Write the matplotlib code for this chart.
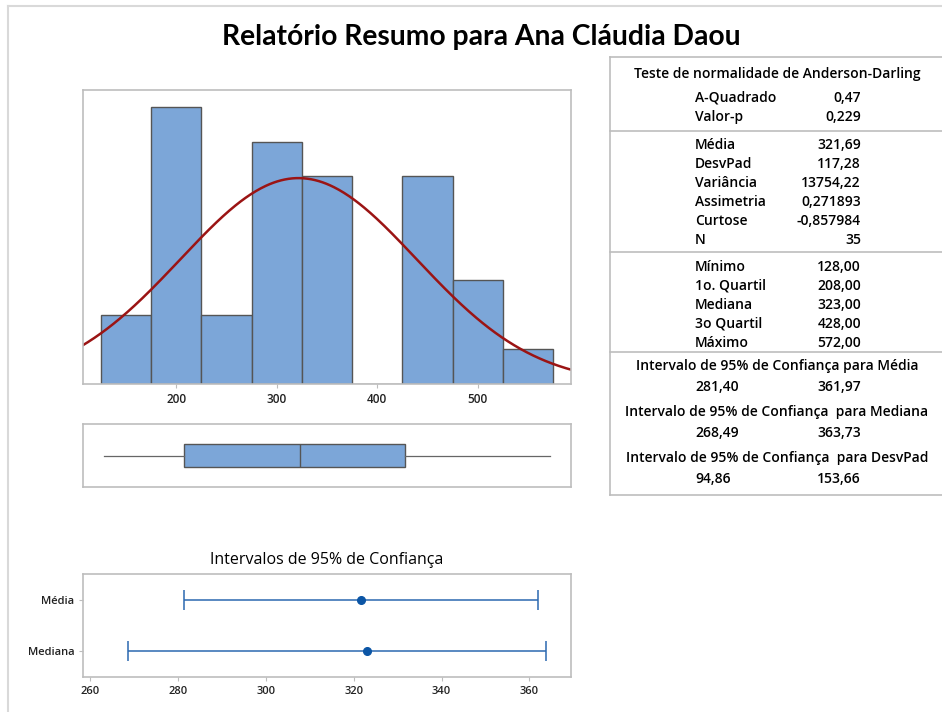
import numpy as np
import matplotlib
matplotlib.use("Agg")
import matplotlib.pyplot as plt
from matplotlib.lines import Line2D

plt.rcParams["font.family"] = ["Open Sans", "DejaVu Sans"]

# histogram data (bin width 50)
bin_edges = [125, 175, 225, 275, 325, 375, 425, 475, 525, 575]
bin_counts = [2, 8, 2, 7, 6, 0, 6, 3, 1]

# summary statistics
n_obs = 35
mean_val = 321.69
std_val = 117.28
box_min = 128.0
box_q1 = 208.0
box_med = 323.0
box_q3 = 428.0
box_max = 572.0

# confidence intervals
ci_labels = ["Mediana", "Média"]
ci_centers = [323.0, 321.69]
ci_low = [268.49, 281.40]
ci_high = [363.73, 361.97]

# table rows
ad_rows = [("A-Quadrado", "0,47"), ("Valor-p", "0,229")]
desc_rows = [("Média", "321,69"), ("DesvPad", "117,28"), ("Variância", "13754,22"),
             ("Assimetria", "0,271893"), ("Curtose", "-0,857984"), ("N", "35")]
quart_rows = [("Mínimo", "128,00"), ("1o. Quartil", "208,00"), ("Mediana", "323,00"),
              ("3o Quartil", "428,00"), ("Máximo", "572,00")]
ci_rows = [("Intervalo de 95% de Confiança para Média", "281,40", "361,97"),
           ("Intervalo de 95% de Confiança  para Mediana", "268,49", "363,73"),
           ("Intervalo de 95% de Confiança  para DesvPad", "94,86", "153,66")]

BAR = "#7ca6d8"
EDGE = "#555555"
FRAME = "#bdbdbd"

W, H = 942, 712
fig = plt.figure(figsize=(W / 100, H / 100), dpi=100)


def fx(px):
    return px / W


def fy(py):
    return 1 - py / H


# outer frame (left and top only visible)
fig.add_artist(Line2D([fx(8), fx(8)], [fy(6), 0], color="#d9d9d9", lw=1.5))
fig.add_artist(Line2D([fx(8), 1], [fy(6), fy(6)], color="#d9d9d9", lw=1.5))

fig.text(fx(481), fy(37), "Relatório Resumo para Ana Cláudia Daou",
         ha="center", va="center", fontsize=20.3, fontweight="bold",
         family=["Lato", "DejaVu Sans"])


def style_frame(ax):
    for s in ax.spines.values():
        s.set_color(FRAME)
        s.set_linewidth(1.2)


# histogram
ax_h = fig.add_axes([fx(83), fy(384), fx(571 - 83), (384 - 90) / H])
widths = np.diff(bin_edges)
ax_h.bar(bin_edges[:-1], bin_counts, width=widths, align="edge",
         color=BAR, edgecolor=EDGE, linewidth=1)
xs = np.linspace(100, 600, 400)
pdf = np.exp(-0.5 * ((xs - mean_val) / std_val) ** 2) / (std_val * np.sqrt(2 * np.pi))
ax_h.plot(xs, pdf * n_obs * 50, color="#9b1414", lw=1.8)
ax_h.set_xlim(107.5, 592.5)
ax_h.set_ylim(0, 8.5)
ax_h.set_yticks([])
ax_h.set_xticks([200, 300, 400, 500])
ax_h.tick_params(axis="x", labelsize=8.5, length=3, color=FRAME, labelcolor="#222222")
for t in ax_h.get_xticklabels():
    t.set_fontweight("semibold")
style_frame(ax_h)

# boxplot
ax_b = fig.add_axes([fx(83), fy(487), fx(571 - 83), (487 - 424) / H])
stats = [{"whislo": box_min, "q1": box_q1, "med": box_med, "q3": box_q3,
          "whishi": box_max, "fliers": []}]
ax_b.bxp(stats, vert=False, widths=0.35, showcaps=False, patch_artist=True,
         boxprops=dict(facecolor=BAR, edgecolor=EDGE, linewidth=1),
         medianprops=dict(color=EDGE, linewidth=1),
         whiskerprops=dict(color="#666666", linewidth=0.9))
ax_b.set_xlim(107.5, 592.5)
ax_b.set_ylim(0.5, 1.5)
ax_b.set_xticks([])
ax_b.set_yticks([])
style_frame(ax_b)

# confidence intervals
ax_c = fig.add_axes([fx(83.3), fy(677), fx(570.7 - 83.3), (677 - 574) / H])
ypos = np.arange(len(ci_labels))
xerr = [np.array(ci_centers) - np.array(ci_low), np.array(ci_high) - np.array(ci_centers)]
ax_c.errorbar(ci_centers, ypos, xerr=xerr, fmt="o", color="#1f5fa8",
              ecolor="#2b68b0", elinewidth=1.1, capsize=7.5, capthick=1.1,
              markersize=5.5, markerfacecolor="#0b55a5", markeredgecolor="#0b55a5")
ax_c.set_xlim(258.4, 369.4)
ax_c.set_ylim(-0.5, 1.5)
ax_c.set_yticks(ypos)
ax_c.set_yticklabels(ci_labels)
ax_c.set_xticks([260, 280, 300, 320, 340, 360])
ax_c.tick_params(labelsize=8, length=3, color=FRAME, labelcolor="#222222")
for t in ax_c.get_xticklabels() + ax_c.get_yticklabels():
    t.set_fontweight("semibold")
style_frame(ax_c)
fig.text(fx(327), fy(560), "Intervalos de 95% de Confiança", ha="center",
         va="center", fontsize=11.5, fontweight="medium")

# table
tx0 = fx(610)
for y in [57, 131, 252, 352]:
    fig.add_artist(Line2D([tx0, 1], [fy(y), fy(y)], color=FRAME, lw=1.2))
fig.add_artist(Line2D([tx0, tx0], [fy(57), fy(495)], color=FRAME, lw=1.2))
fig.add_artist(Line2D([tx0, 1], [fy(495), fy(495)], color=FRAME, lw=1.2))

fs = 10
lab_x = fx(695)
val_x = fx(861)
mid_x = fx(777)
fig.text(mid_x, fy(74), "Teste de normalidade de Anderson-Darling", ha="center",
         va="center", fontsize=fs, fontweight="semibold")
for rows, y0 in [(ad_rows, 98), (desc_rows, 145), (quart_rows, 267)]:
    for i, (lab, val) in enumerate(rows):
        y = fy(y0 + i * 19)
        fig.text(lab_x, y, lab, ha="left", va="center", fontsize=fs, fontweight="semibold")
        fig.text(val_x, y, val, ha="right", va="center", fontsize=fs, fontweight="semibold")
for i, (title, lo, hi) in enumerate(ci_rows):
    y_t = 366 + i * 46
    fig.text(mid_x, fy(y_t), title, ha="center", va="center", fontsize=fs,
             fontweight="semibold")
    fig.text(lab_x, fy(y_t + 21), lo, ha="left", va="center", fontsize=fs,
             fontweight="semibold")
    fig.text(val_x, fy(y_t + 21), hi, ha="right", va="center", fontsize=fs,
             fontweight="semibold")

fig.savefig("out.png", dpi=100)
